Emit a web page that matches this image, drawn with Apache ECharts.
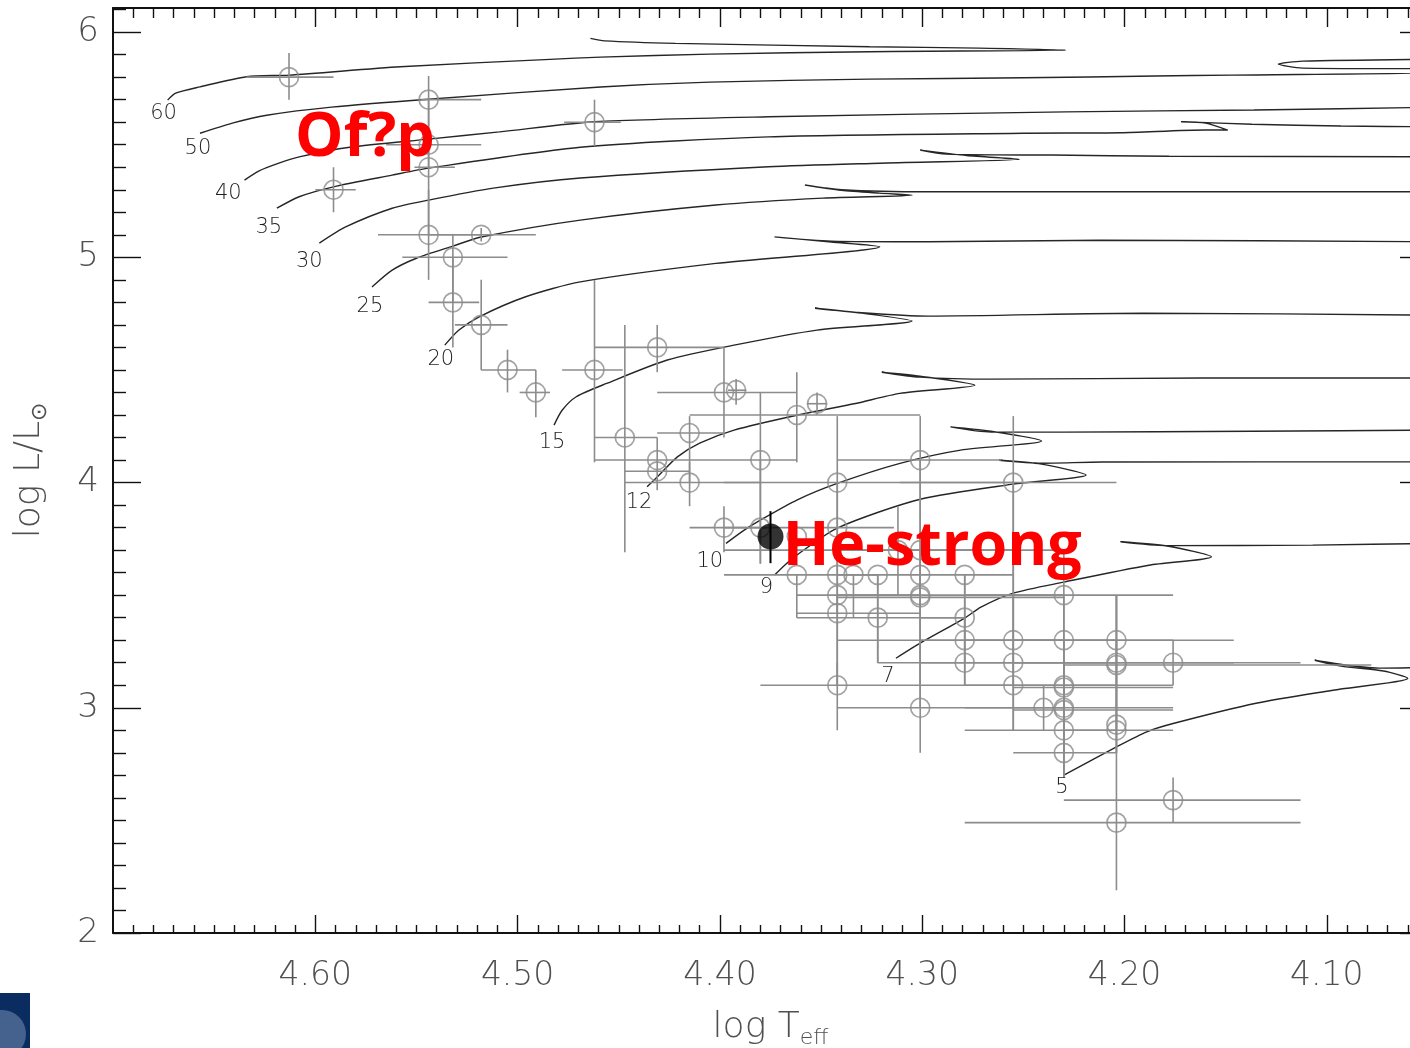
<!DOCTYPE html>
<html><head><meta charset="utf-8">
<script src="https://cdn.jsdelivr.net/npm/echarts@6/dist/echarts.min.js"></script>
<style>html,body{margin:0;padding:0;background:#fff}#c{width:1410px;height:1048px}</style>
</head><body><div id="c"></div>
<script>
// ---- axis ticks ----
const xMajor = [4.1, 4.2, 4.3, 4.4, 4.5, 4.6];
const xTickLabels = ['4.10', '4.20', '4.30', '4.40', '4.50', '4.60'];
const yMajor = [2, 3, 4, 5, 6];
const yTickLabels = ['2', '3', '4', '5', '6'];
const xMinor = []; for (let i = 405; i <= 470; i++) if (i % 10) xMinor.push(i / 100);
const yMinor = []; for (let i = 20; i <= 61; i++) if (i % 10) yMinor.push(i / 10);

// ---- evolutionary tracks [logTeff, logL] ----
const track60 = [[4.673,5.698],[4.669,5.729],[4.657,5.757],[4.634,5.802],[4.613,5.809],[4.558,5.846],[4.484,5.879],[4.459,5.889],[4.405,5.902],[4.326,5.913],[4.229,5.920],[4.272,5.929],[4.326,5.935],[4.422,5.950],[4.457,5.961],[4.464,5.972]];
const track50 = [[4.657,5.551],[4.641,5.596],[4.624,5.631],[4.592,5.667],[4.544,5.702],[4.459,5.756],[4.405,5.778],[4.326,5.791],[4.250,5.797],[4.185,5.805],[4.147,5.809],[4.043,5.822],[4.043,5.836],[4.112,5.840],[4.124,5.858],[4.112,5.871],[4.043,5.880]];
const track40 = [[4.635,5.343],[4.628,5.383],[4.618,5.418],[4.608,5.446],[4.583,5.489],[4.544,5.525],[4.509,5.557],[4.462,5.602],[4.376,5.624],[4.229,5.646],[4.136,5.654],[4.043,5.667]];
const track35 = [[4.619,5.218],[4.608,5.269],[4.591,5.313],[4.562,5.365],[4.544,5.396],[4.469,5.489],[4.376,5.535],[4.250,5.551],[4.202,5.553],[4.160,5.565],[4.149,5.565],[4.160,5.596],[4.172,5.602],[4.137,5.591],[4.093,5.583],[4.043,5.579]];
const track30 = [[4.598,5.063],[4.585,5.135],[4.562,5.218],[4.544,5.254],[4.512,5.307],[4.469,5.352],[4.376,5.402],[4.321,5.418],[4.252,5.435],[4.278,5.452],[4.301,5.476],[4.288,5.458],[4.236,5.454],[4.178,5.449],[4.043,5.446]];
const track25 = [[4.572,4.868],[4.562,4.943],[4.550,4.996],[4.532,5.050],[4.518,5.090],[4.469,5.165],[4.402,5.232],[4.349,5.263],[4.305,5.276],[4.321,5.285],[4.340,5.298],[4.358,5.321],[4.340,5.300],[4.297,5.291],[4.043,5.291]];
const track20 = [[4.536,4.610],[4.529,4.677],[4.519,4.736],[4.496,4.825],[4.469,4.891],[4.402,4.973],[4.321,5.047],[4.345,5.068],[4.373,5.091],[4.345,5.072],[4.297,5.069],[4.212,5.076],[4.043,5.069]];
const track15 = [[4.482,4.255],[4.478,4.321],[4.471,4.381],[4.456,4.440],[4.426,4.544],[4.393,4.610],[4.352,4.677],[4.305,4.717],[4.330,4.752],[4.353,4.774],[4.330,4.754],[4.297,4.739],[4.191,4.752],[4.043,4.743]];
const track12 = [[4.436,3.981],[4.431,4.025],[4.421,4.114],[4.410,4.175],[4.393,4.233],[4.362,4.299],[4.333,4.351],[4.311,4.396],[4.274,4.432],[4.301,4.472],[4.320,4.490],[4.301,4.468],[4.266,4.459],[4.162,4.464],[4.043,4.464]];
const track10 = [[4.397,3.730],[4.388,3.789],[4.380,3.833],[4.362,3.922],[4.342,3.996],[4.311,4.085],[4.281,4.144],[4.241,4.185],[4.266,4.228],[4.286,4.247],[4.266,4.224],[4.231,4.224],[4.137,4.228],[4.043,4.233]];
const track9 = [[4.373,3.589],[4.368,3.633],[4.362,3.678],[4.342,3.798],[4.301,3.926],[4.255,3.993],[4.219,4.033],[4.241,4.082],[4.262,4.099],[4.241,4.086],[4.211,4.091],[4.043,4.092]];
const track7 = [[4.313,3.220],[4.301,3.287],[4.279,3.398],[4.271,3.447],[4.255,3.509],[4.230,3.558],[4.188,3.633],[4.157,3.670],[4.179,3.718],[4.202,3.737],[4.179,3.720],[4.107,3.722],[4.043,3.731]];
const track5 = [[4.230,2.701],[4.204,2.826],[4.189,2.893],[4.176,2.930],[4.135,3.020],[4.097,3.078],[4.060,3.131],[4.072,3.163],[4.093,3.185],[4.106,3.211],[4.090,3.189],[4.073,3.176],[4.043,3.180]];
const tracks = [track60, track50, track40, track35, track30, track25, track20, track15, track12, track10, track9, track7, track5];

// ---- track mass labels ----
const trackMasses = ['60','50','40','35','30','25','20','15','12','10','9','7','5'];
const massLabelT = [4.675, 4.658, 4.643, 4.623, 4.603, 4.573, 4.538, 4.483, 4.440, 4.405, 4.377, 4.317, 4.231];
const massLabelL = [5.640, 5.485, 5.285, 5.134, 4.983, 4.783, 4.544, 4.179, 3.909, 3.651, 3.536, 3.140, 2.647];

// ---- stars: [logT, logL, logT left end, logT right end, logL top, logL bottom] ----
const stars = [
 [4.613,5.80,4.634,4.591,5.907,5.70],
 [4.544,5.70,4.548,4.518,5.805,5.50],
 [4.462,5.60,4.477,4.449,5.70,5.494],
 [4.544,5.50,4.565,4.518,5.70,5.40],
 [4.544,5.40,4.551,4.531,5.50,5.10],
 [4.591,5.30,4.600,4.580,5.40,5.20],
 [4.544,5.10,4.569,4.518,5.30,4.90],
 [4.518,5.10,4.544,4.491,5.13,5.07],
 [4.532,5.00,4.557,4.505,5.10,4.80],
 [4.532,4.80,4.544,4.519,5.00,4.60],
 [4.518,4.70,4.531,4.505,4.90,4.50],
 [4.505,4.50,4.518,4.491,4.59,4.40],
 [4.491,4.40,4.499,4.484,4.50,4.29],
 [4.462,4.50,4.478,4.448,4.90,4.09],
 [4.431,4.60,4.462,4.398,4.70,4.49],
 [4.398,4.40,4.431,4.362,4.60,4.20],
 [4.392,4.41,4.396,4.387,4.46,4.345],
 [4.447,4.20,4.462,4.431,4.70,3.69],
 [4.431,4.10,4.431,4.431,4.20,3.966],
 [4.431,4.05,4.447,4.415,4.05,4.05],
 [4.415,4.22,4.431,4.398,4.295,4.00],
 [4.415,4.00,4.447,4.380,4.09,3.895],
 [4.380,4.10,4.462,4.362,4.40,3.64],
 [4.362,4.30,4.415,4.301,4.49,4.09],
 [4.352,4.35,4.357,4.347,4.40,4.30],
 [4.342,4.00,4.398,4.255,4.295,3.80],
 [4.301,4.10,4.342,4.261,4.295,3.69],
 [4.255,4.00,4.311,4.204,4.295,3.30],
 [4.398,3.80,4.415,4.377,3.895,3.69],
 [4.380,3.80,4.398,4.362,4.10,3.64],
 [4.362,3.76,4.362,4.362,3.76,3.76],
 [4.342,3.80,4.362,4.314,4.00,3.59],
 [4.312,3.70,4.398,4.255,3.895,3.50],
 [4.301,3.70,4.342,4.230,4.10,3.50],
 [4.362,3.59,4.398,4.322,3.59,3.40],
 [4.342,3.59,4.342,4.342,3.80,3.42],
 [4.334,3.59,4.334,4.334,3.59,3.40],
 [4.322,3.59,4.322,4.322,3.59,3.20],
 [4.301,3.59,4.342,4.255,3.70,3.30],
 [4.279,3.59,4.279,4.279,3.59,3.30],
 [4.342,3.50,4.362,4.301,3.59,3.10],
 [4.301,3.50,4.342,4.230,3.59,3.00],
 [4.301,3.49,4.342,4.230,3.70,3.10],
 [4.230,3.50,4.279,4.176,3.69,3.10],
 [4.342,3.42,4.362,4.301,3.50,3.10],
 [4.322,3.40,4.362,4.279,3.59,3.20],
 [4.279,3.40,4.301,4.279,3.59,3.20],
 [4.279,3.30,4.342,4.230,3.40,3.10],
 [4.255,3.30,4.301,4.204,4.00,3.10],
 [4.230,3.30,4.279,4.176,3.50,3.00],
 [4.204,3.30,4.255,4.146,3.50,3.10],
 [4.279,3.20,4.322,4.230,3.30,3.10],
 [4.255,3.20,4.301,4.204,3.50,2.90],
 [4.204,3.20,4.255,4.146,3.30,2.90],
 [4.204,3.19,4.230,4.078,3.50,3.00],
 [4.176,3.20,4.230,4.113,3.30,3.10],
 [4.342,3.10,4.380,4.301,3.20,2.90],
 [4.255,3.10,4.301,4.204,3.30,2.90],
 [4.230,3.10,4.279,4.176,3.30,2.90],
 [4.230,3.09,4.255,4.176,3.20,2.80],
 [4.301,3.00,4.342,4.255,3.30,2.80],
 [4.240,3.00,4.255,4.230,3.10,2.90],
 [4.230,3.00,4.279,4.176,3.20,2.80],
 [4.230,2.99,4.255,4.176,3.10,2.69],
 [4.230,2.90,4.279,4.204,3.10,2.69],
 [4.204,2.90,4.230,4.176,3.10,2.80],
 [4.204,2.925,4.204,4.204,3.00,2.80],
 [4.230,2.80,4.255,4.204,2.90,2.69],
 [4.176,2.59,4.230,4.113,2.69,2.49],
 [4.204,2.49,4.279,4.113,3.50,2.19]
];
const heStrongStar = [[4.375,3.76,4.375,4.375,3.873,3.642]];

// ---- annotations ----
const noteText = ['Of?p', 'He-strong'];
const noteT = [4.610, 4.369];
const noteL = [5.525, 3.713];

const FONT = '"DejaVu Sans", sans-serif';
const AX = '#111';
const LBL = '#505050';
const GREY = '#8c8c8c';

function xAx(pos, vals, len, withLabels, withLine) {
  return {
    type: 'value', position: pos, min: 4.05, max: 4.70, inverse: true,
    axisLine: { show: withLine, lineStyle: { color: AX, width: 2 } },
    axisTick: { show: true, inside: true, length: len, customValues: vals, lineStyle: { color: AX, width: 1.4 } },
    axisLabel: withLabels ? { show: true, customValues: xMajor, margin: 27, fontSize: 33, color: LBL, fontFamily: FONT, fontWeight: 200,
      formatter: v => xTickLabels[xMajor.findIndex(m => Math.abs(m - v) < 1e-6)] } : { show: false },
    splitLine: { show: false }, minorTick: { show: false }
  };
}
function yAx(pos, vals, len, withLabels, withLine) {
  return {
    type: 'value', position: pos, min: 2, max: 6.107,
    axisLine: { show: withLine, lineStyle: { color: AX, width: 2 } },
    axisTick: { show: true, inside: true, length: len, customValues: vals, lineStyle: { color: AX, width: 1.4 } },
    axisLabel: withLabels ? { show: true, customValues: yMajor, margin: 14, fontSize: 34, color: LBL, fontFamily: FONT, fontWeight: 200,
      formatter: v => yTickLabels[yMajor.findIndex(m => Math.abs(m - v) < 1e-6)] } : { show: false },
    splitLine: { show: false }
  };
}

const xAxes = [xAx('bottom', xMajor, 18, true, true), xAx('bottom', xMinor, 8, false, false),
               xAx('top', xMajor, 19, false, true), xAx('top', xMinor, 10, false, false)];
Object.assign(xAxes[0], {
  name: '{a|log T}{s|eff}', nameLocation: 'middle', nameGap: 74,
  nameTextStyle: { rich: {
    a: { fontSize: 36, color: LBL, fontFamily: FONT, fontWeight: 200, lineHeight: 42, verticalAlign: 'middle' },
    s: { fontSize: 22, color: LBL, fontFamily: FONT, fontWeight: 200, lineHeight: 42, verticalAlign: 'bottom' } } }
});
const yAxes = [yAx('left', yMajor, 28, true, true), yAx('left', yMinor, 13, false, false),
               yAx('right', yMajor, 28, false, true), yAx('right', yMinor, 13, false, false)];
Object.assign(yAxes[0], {
  name: '{a|log L/L}{s|⊙}', nameLocation: 'middle', nameGap: 62,
  nameTextStyle: { rich: {
    a: { fontSize: 36, color: LBL, fontFamily: FONT, fontWeight: 200, lineHeight: 42, verticalAlign: 'middle' },
    s: { fontSize: 22, color: LBL, fontFamily: FONT, fontWeight: 200, lineHeight: 42, verticalAlign: 'bottom' } } }
});

const series = [];
tracks.forEach(t => series.push({
  type: 'line', data: t, symbol: 'none', showSymbol: false, smooth: 0.25, clip: true, silent: true,
  lineStyle: { color: '#262626', width: 1.4 }, z: 2
}));

function errRender(color, width) {
  return function (params, api) {
    const x = api.value(0), y = api.value(1);
    const pL = api.coord([api.value(2), y]), pR = api.coord([api.value(3), y]);
    const pT = api.coord([x, api.value(4)]), pB = api.coord([x, api.value(5)]);
    const st = { stroke: color, lineWidth: width };
    return { type: 'group', children: [
      { type: 'line', shape: { x1: pL[0], y1: pL[1], x2: pR[0], y2: pR[1] }, style: st },
      { type: 'line', shape: { x1: pT[0], y1: pT[1], x2: pB[0], y2: pB[1] }, style: st }
    ] };
  };
}
series.push({ type: 'custom', data: stars, encode: { x: 0, y: 1 }, renderItem: errRender(GREY, 1.6), silent: true, z: 3 });
series.push({ type: 'scatter', data: stars.map(s => [s[0], s[1]]), symbol: 'circle', symbolSize: 19, silent: true,
  itemStyle: { color: 'rgba(0,0,0,0)', borderColor: GREY, borderWidth: 1.7 }, z: 4 });
series.push({ type: 'custom', data: heStrongStar, encode: { x: 0, y: 1 }, renderItem: errRender('#000', 2), silent: true, z: 5 });
series.push({ type: 'scatter', data: heStrongStar.map(s => [s[0], s[1]]), symbol: 'circle', symbolSize: 26, silent: true,
  itemStyle: { color: '#000' }, z: 6 });

series.push({ type: 'custom', data: massLabelT.map((t, i) => [t, massLabelL[i]]), encode: { x: 0, y: 1 }, silent: true, z: 7,
  renderItem: (params, api) => {
    const p = api.coord([api.value(0), api.value(1)]);
    return { type: 'text', x: p[0], y: p[1], style: { text: trackMasses[params.dataIndex], fontSize: 21, fill: '#1e1e1e',
      fontFamily: FONT, fontWeight: 200, align: 'center', verticalAlign: 'middle' } };
  } });
series.push({ type: 'custom', data: noteT.map((t, i) => [t, noteL[i]]), encode: { x: 0, y: 1 }, silent: true, z: 10,
  renderItem: (params, api) => {
    const p = api.coord([api.value(0), api.value(1)]);
    return { type: 'text', x: p[0], y: p[1], z2: 100, style: { text: noteText[params.dataIndex], fontSize: 61, fill: '#ff0000',
      fontFamily: '"Open Sans", "Noto Sans", sans-serif', fontWeight: 'bold', align: 'left', verticalAlign: 'middle' } };
  } });

const chart = echarts.init(document.getElementById('c'), null, { renderer: 'canvas' });
chart.setOption({
  animation: false,
  backgroundColor: '#fff',
  grid: { left: 113, right: -18, top: 8, bottom: 115, containLabel: false, outerBoundsMode: 'none' },
  xAxis: xAxes,
  yAxis: yAxes,
  graphic: [{ type: 'rect', left: 0, top: 993, shape: { width: 30, height: 55 }, style: { fill: '#0b2c60' } },
            { type: 'circle', left: -22, top: 1010, shape: { r: 24 }, style: { fill: '#6d86ad', opacity: 0.6 } }],
  series: series
});
</script></body></html>
